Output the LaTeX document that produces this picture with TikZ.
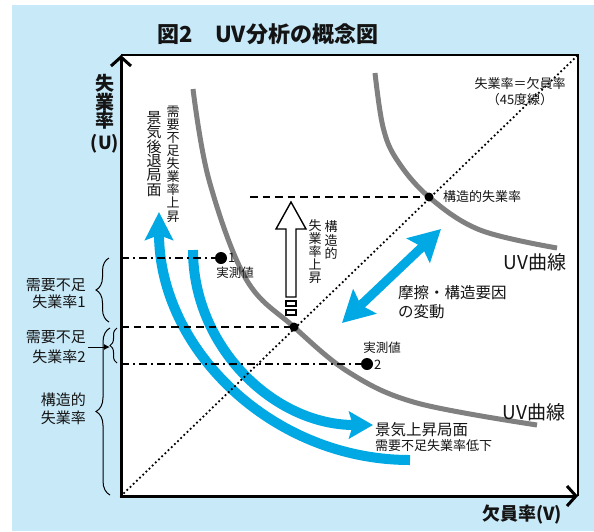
\documentclass[tikz,border=0pt]{standalone}
\usepackage{fontspec}
\setmainfont{Noto Sans CJK JP}
\usetikzlibrary{arrows.meta,decorations.pathreplacing}
\definecolor{bgblue}{RGB}{200,233,248}
\definecolor{uvcyan}{RGB}{0,168,228}
\definecolor{uvgray}{RGB}{128,128,128}
\definecolor{ink}{RGB}{20,20,20}
\begin{document}
\begin{tikzpicture}[x=1pt,y=-1pt,
  lbl/.style={text=ink,inner sep=0pt},
  fs/.style={font=\fontsize{#1}{#1}\selectfont},
  fsb/.style={font=\fontsize{#1}{#1}\selectfont\bfseries},
  vtxt/.style 2 args={align=center,font=\fontsize{#1}{#2}\selectfont},
  axisline/.style={line width=3pt,{Straight Barb[length=9pt,width=20pt,line width=3pt]}-{Straight Barb[length=9pt,width=20pt,line width=3pt]}},
  frameline/.style={line width=1.2pt},
  uvcurve/.style={draw=uvgray,line width=5pt},
  dashline/.style={line width=1.6pt,dash pattern=on 7.5pt off 5pt},
  dashdotline/.style={line width=1.6pt,dash pattern=on 8pt off 4pt on 2pt off 4pt},
  diag/.style={line width=2.5pt,line cap=round,dash pattern=on 0pt off 4.4pt},
  bigdot/.style={circle,fill=black,inner sep=0pt,minimum size=12pt},
  smalldot/.style={circle,fill=black,inner sep=0pt,minimum size=9pt},
  upband/.style={draw=uvcyan,line width=10pt,-{Stealth[length=28pt,width=28pt,inset=5pt]}},
  rightband/.style={draw=uvcyan,line width=10pt,-{Stealth[length=24pt,width=27pt,inset=4pt]}},
  dblarrow/.style={draw=uvcyan,line width=9pt,{Stealth[length=31pt,width=33pt,inset=5pt]}-{Stealth[length=31pt,width=33pt,inset=5pt]}},
  bracedec/.style={decorate,decoration={brace,amplitude=#1},line width=1pt},
  hollow/.style={draw=black,fill=white,line width=1.4pt,line join=miter}
]
\useasboundingbox (0,0) rectangle (594,531);
% background
\fill[bgblue] (12,5) rectangle (594,531);
\fill[white] (121,55) rectangle (578,496);
\draw[frameline] (121,55) -- (578,55) -- (578,496);

% coordinates
\coordinate (O) at (121,496);
\coordinate (Ytop) at (121,55);
\coordinate (Xend) at (578,496);
\coordinate (TR) at (578,55);

% UV curves
\draw[uvcurve] plot[smooth,tension=0.6] coordinates {(375,73) (383,127) (397,160) (429,197) (480,230) (557,248)};
\draw[uvcurve] plot[smooth,tension=0.6] coordinates {(193,89) (209,180) (246,279) (294,327) (350,373) (417,403) (537,425)};

% blue arrows
\coordinate (UpStart) at (410,460);
\coordinate (UpTip) at (159,212);
\coordinate (RtStart) at (193,250);
\coordinate (RtTip) at (373,425);
\draw[upband] (UpStart) .. controls (272,460) and (159,349) .. (UpTip);
\draw[rightband] (RtStart) .. controls (193,347) and (274,425) .. (RtTip);
\coordinate (DA) at (342,323);
\coordinate (DB) at (441,229);
\draw[dblarrow] (DA) -- (DB);

% dots
\node[smalldot] (S1) at (429,197) {};
\node[smalldot] (S2) at (294,327) {};
\node[bigdot] (M1) at (221,258) {};
\node[bigdot] (M2) at (367,364) {};

% horizontal lines
\coordinate (H1) at (250,197);
\coordinate (H2) at (121,327);
\coordinate (H3) at (121,258);
\coordinate (H4) at (121,364);
\draw[dashline] (H1) -- (S1.center);
\draw[dashline] (H2) -- (S2.center);
\draw[dashdotline] (H3) -- (M1.center);
\draw[dashdotline] (H4) -- (M2.center);

% 45 degree line
\draw[diag] (O) -- (TR);

% hollow arrow
\draw[hollow] (291,202) -- (306,229) -- (296,229) -- (296,297) -- (286,297) -- (286,229) -- (276,229) -- cycle;
\draw[hollow] (286,301) rectangle (296,306);
\draw[hollow] (286,310) rectangle (296,315);

% axes
\draw[axisline] (Ytop) -- (O) -- (Xend);

% braces
\draw[bracedec=13pt] (109,322) -- (109,258);
\draw[bracedec=7pt] (117,363) -- (117,328);
\draw[bracedec=14pt] (110,495) -- (110,328);
\coordinate (B2tip) at (110,347);
\coordinate (B2tail) at (88,347);
\draw[line width=1pt,-{Latex[length=6pt,width=6pt]}] (B2tail) -- (B2tip);

% title
\node[lbl,fsb=22] (title) at (268,34) {図2　UV分析の概念図};

% axis labels
\node[lbl,align=center,font=\fontsize{19}{18.5}\selectfont\bfseries] (ylab) at (105,102) {失\\業\\率};
\node[lbl,fsb=18] (ylabU) at (105,144) {(U)};
\node[lbl,fsb=18] (xlab) at (522,515) {欠員率(V)};

% 45 line label
\node[lbl,fs=13] (l45a) at (520,84) {失業率＝欠員率};
\node[lbl,fs=13] (l45b) at (520,100) {（45度線）};

% structural point
\node[lbl,fs=13,anchor=west] (kozo) at (443,197) {構造的失業率};

% UV curve labels
\node[lbl,font=\fontsize{19}{19}\selectfont] (uv1) at (535,262) {UV曲線};
\node[lbl,font=\fontsize{19}{19}\selectfont] (uv2) at (534,412) {UV曲線};

% friction label
\node[lbl,fs=15.5,anchor=west] (ma1) at (398,293) {摩擦・構造要因};
\node[lbl,fs=15.5,anchor=west] (ma2) at (398,312) {の変動};

% measured values
\node[lbl,fs=13,anchor=west] (n1) at (228,258) {1};
\node[lbl,fs=12.5] (jm1) at (235,273) {実測値};
\node[lbl,fs=13,anchor=west] (n2) at (374,365) {2};
\node[lbl,fs=12.5] (jm2) at (382,348) {実測値};

% recovery labels
\node[lbl,fs=15.5,anchor=west] (kj1) at (375,430) {景気上昇局面};
\node[lbl,fs=13,anchor=west] (kj2) at (375,446) {需要不足失業率低下};

% vertical labels
\node[lbl,vtxt={15}{14.3}] (kt1) at (154,154) {景\\気\\後\\退\\局\\面};
\node[lbl,vtxt={13}{13.1}] (kt2) at (173,164) {需\\要\\不\\足\\失\\業\\率\\上\\昇};
\node[lbl,vtxt={13}{13.3}] (ks1) at (331,240) {構\\造\\的};
\node[lbl,vtxt={13}{13}] (ks2) at (315,252) {失\\業\\率\\上\\昇};

% left brace labels
\node[lbl,fs=15,anchor=east] (b1a) at (86,285) {需要不足};
\node[lbl,fs=15,anchor=east] (b1b) at (86,302) {失業率1};
\node[lbl,fs=15,anchor=east] (b2a) at (86,337) {需要不足};
\node[lbl,fs=15,anchor=east] (b2b) at (86,357) {失業率2};
\node[lbl,fs=15,anchor=east] (b3a) at (86,400) {構造的};
\node[lbl,fs=15,anchor=east] (b3b) at (86,418) {失業率};
\end{tikzpicture}
\end{document}
